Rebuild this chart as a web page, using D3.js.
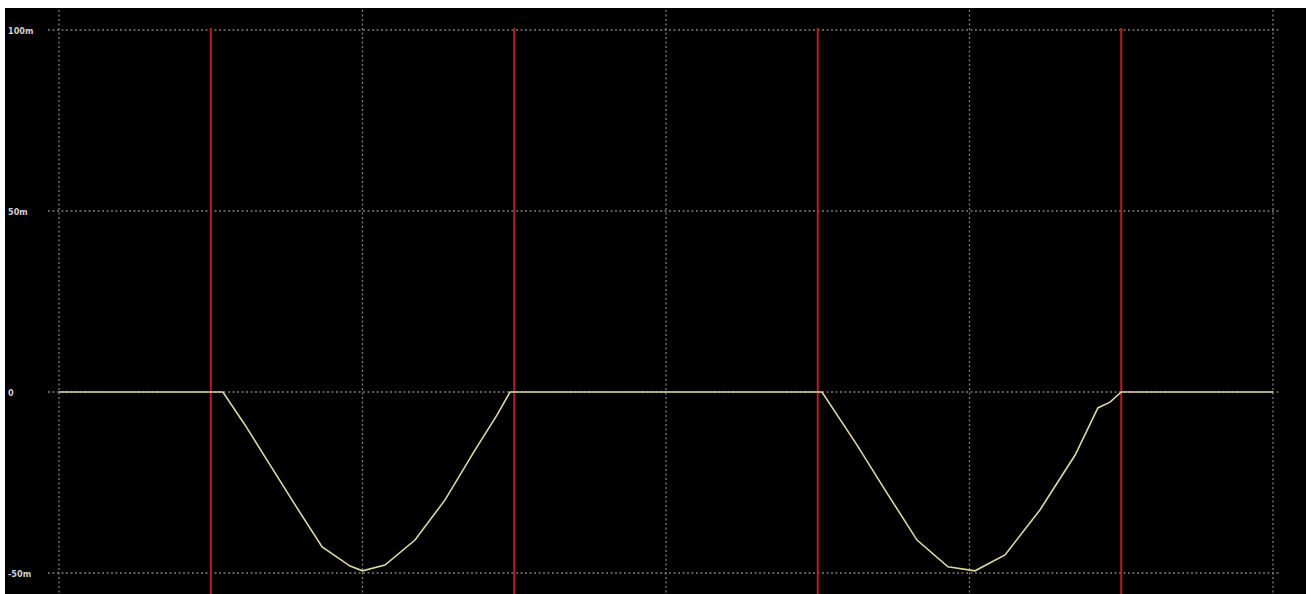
<!DOCTYPE html>
<html>
<head>
<meta charset="utf-8">
<script src="https://cdn.jsdelivr.net/npm/d3@7"></script>
<style>
    body { margin: 0; background: #fff; }
    svg { display: block; }
    .grid line { stroke: #7c7c7c; stroke-width: 1.3; stroke-dasharray: 2 2.5; }
    .y-label { fill: #cfcfcf; font-family: "DejaVu Sans Condensed", "DejaVu Sans", sans-serif; font-size: 9px; font-weight: bold; }
</style>
</head>
<body>
<div id="chart"></div>
<script>
// time in ms (one grid division = 10), voltage in mV
let timeMs = [0, 5.4, 6.13, 6.89, 7.78, 8.67, 9.59, 10.0, 10.74, 11.73, 12.72, 13.71, 14.43, 14.86,
    25.14, 26.29, 27.22, 28.27, 29.29, 30.18, 31.17, 32.32, 33.48, 34.23, 34.63, 35.0, 40];
let voltage = [0, 0, -9.1, -19.3, -31.2, -42.8, -48.1, -49.4, -47.8, -40.9, -29.8, -16.0, -6.4, 0,
    0, -14.6, -27.1, -40.9, -48.3, -49.4, -45.0, -32.6, -17.4, -4.4, -2.8, 0, 0];
let markerTimes = [5, 15, 25, 35];
let xGridTicks = [0, 10, 20, 30, 40];
let yTicks = [-50, 0, 50, 100];
let yTickLabels = ['-50m', '0', '50m', '100m'];

function drawScope(div) {
    let config = getConfiguration(div);
    let { xScaler, yScaler } = createScaler(config);
    drawGrid(config, xScaler, yScaler);
    drawMarkers(config, xScaler);
    drawTrace(config, xScaler, yScaler);
}

function getConfiguration(div) {
    let width = 1306, height = 594;
    let svg = d3.select(div).append('svg').attr('width', width).attr('height', height);
    svg.append('rect').attrs({ x: 5, y: 8, width: width - 5, height: height - 8, fill: '#000' });
    let chart = svg.append('g');
    return { width, height, svg, chart, left: 59, right: 1273, top: 30, bottom: 573 };
}

function createScaler(config) {
    let { left, right, top, bottom } = config;
    let xScaler = d3.scaleLinear().domain([0, 40]).range([left, right]);
    let yScaler = d3.scaleLinear().domain([-50, 100]).range([bottom, top]);
    return { xScaler, yScaler };
}

function drawGrid(config, xScaler, yScaler) {
    let { chart, height } = config;
    let grid = chart.append('g').attr('class', 'grid');
    grid.selectAll('.hl')
        .data(yTicks)
        .enter()
        .append('line')
        .attrs({ x1: 48, x2: 1280, y1: d => yScaler(d), y2: d => yScaler(d) });
    grid.selectAll('.vl')
        .data(xGridTicks)
        .enter()
        .append('line')
        .attrs({ x1: d => xScaler(d), x2: d => xScaler(d), y1: 10, y2: height });

    chart.selectAll('.y-label')
        .data(yTicks)
        .enter()
        .append('text')
        .attr('class', 'y-label')
        .attrs({ x: 8, y: d => yScaler(d) + 1, 'dominant-baseline': 'middle' })
        .text((d, i) => yTickLabels[i]);
}

function drawMarkers(config, xScaler) {
    let { chart, height } = config;
    chart.selectAll('.marker')
        .data(markerTimes)
        .enter()
        .append('line')
        .attrs({
            x1: d => xScaler(d), x2: d => xScaler(d),
            y1: 28, y2: height,
            stroke: '#b81c2a', 'stroke-width': 2
        });
}

function drawTrace(config, xScaler, yScaler) {
    let { chart } = config;
    let line = d3.line()
        .x(d => xScaler(d[0]))
        .y(d => yScaler(d[1]));
    chart.append('path')
        .datum(timeMs.map((t, i) => [t, voltage[i]]))
        .attrs({ d: line, fill: 'none', stroke: '#dcd8a4', 'stroke-width': 1.6 });
}

// small helper like d3-selection-multi
d3.selection.prototype.attrs = function (obj) {
    for (let k in obj) this.attr(k, obj[k]);
    return this;
};

drawScope('#chart');
</script>
</body>
</html>
